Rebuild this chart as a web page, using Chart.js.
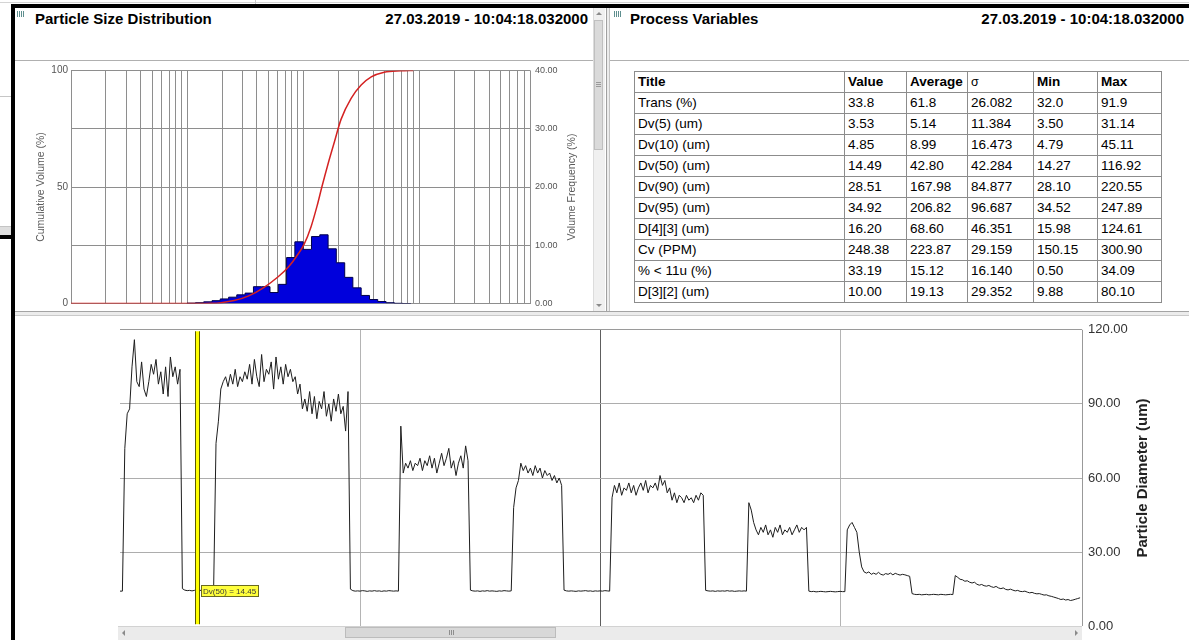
<!DOCTYPE html>
<html>
<head>
<meta charset="utf-8">
<title>Particle Size Distribution / Process Variables</title>
<script src="https://cdn.jsdelivr.net/npm/chart.js@4.4.1/dist/chart.umd.min.js"></script>
<style>
  html, body { margin: 0; padding: 0; background: #fff; }
  body { width: 1189px; height: 640px; position: relative; overflow: hidden;
         font-family: "Liberation Sans", Arial, sans-serif; color: #000; }
  .abs { position: absolute; }
  .hdr { position: absolute; top: 10px; font-size: 15px; font-weight: bold; line-height: 17px; white-space: nowrap; }
  .icon { position: absolute; width: 8px; height: 6px;
          background: repeating-linear-gradient(90deg, #5f8f8f 0 1px, transparent 1px 2px); }
  #pv { position: absolute; left: 634px; top: 71px; border-collapse: collapse; table-layout: fixed;
        font-size: 13.5px; width: 527px; }
  #pv td { border: 1px solid #8c8c8c; padding: 0 3px; height: 20px; line-height: 20px;
           white-space: nowrap; overflow: hidden; }
  #pv tr.head td { font-weight: bold; }
  #pv tr.head td.sym { font-weight: normal; font-size: 12.5px; }
  canvas { position: absolute; }
  .tri-up { width: 0; height: 0; border-left: 3px solid transparent; border-right: 3px solid transparent; border-bottom: 3px solid #8a8a8a; }
  .tri-dn { width: 0; height: 0; border-left: 3px solid transparent; border-right: 3px solid transparent; border-top: 3px solid #8a8a8a; }
  .tri-lt { width: 0; height: 0; border-top: 3px solid transparent; border-bottom: 3px solid transparent; border-right: 3px solid #8a8a8a; }
  .tri-rt { width: 0; height: 0; border-top: 3px solid transparent; border-bottom: 3px solid transparent; border-left: 3px solid #8a8a8a; }
</style>
</head>
<body>

<!-- neighbouring window edge on the far left -->
<div class="abs" style="left:0;top:2px;width:1189px;height:1px;background:#d4d4d4"></div>
<div class="abs" style="left:255px;top:0;width:1px;height:4px;background:#c8c8c8"></div>
<div class="abs" style="left:0;top:96px;width:11px;height:1px;background:#c6c6c6"></div>
<div class="abs" style="left:0;top:226px;width:11px;height:8px;background:#dedede;border-top:1px solid #c4c4c4"></div>
<div class="abs" style="left:0;top:235px;width:15px;height:4px;background:#000"></div>

<!-- outer frame -->
<div class="abs" style="left:11px;top:4px;width:1178px;height:4px;background:#000"></div>
<div class="abs" style="left:11px;top:4px;width:4px;height:636px;background:#000"></div>

<!-- left panel header -->
<div class="icon" style="left:17px;top:11px"></div>
<div class="hdr" style="left:35px">Particle Size Distribution</div>
<div class="hdr" style="right:601px;text-align:right">27.03.2019 - 10:04:18.032000</div>
<div class="abs" style="left:15px;top:60px;width:578px;height:1px;background:#b0b0b0"></div>

<!-- left panel vertical scrollbar -->
<div class="abs" style="left:593px;top:8px;width:11px;height:304px;background:#f0f0f0;border-left:1px solid #dcdcdc"></div>
<div class="abs tri-up" style="left:596px;top:12px"></div>
<div class="abs" style="left:594px;top:20px;width:9px;height:130px;background:#dadada;border:1px solid #bfbfbf;box-sizing:border-box"></div>
<div class="abs" style="left:596px;top:82px;width:5px;height:5px;background:repeating-linear-gradient(180deg,#9a9a9a 0 1px,transparent 1px 2px)"></div>
<div class="abs tri-dn" style="left:596px;top:304px"></div>

<!-- panel divider -->
<div class="abs" style="left:606px;top:8px;width:1px;height:305px;background:#a0a0a0"></div>
<div class="abs" style="left:607px;top:8px;width:2px;height:305px;background:#ececec"></div>
<div class="abs" style="left:609px;top:8px;width:1px;height:305px;background:#c4c4c4"></div>

<!-- right panel header -->
<div class="icon" style="left:614px;top:11px"></div>
<div class="hdr" style="left:630px">Process Variables</div>
<div class="hdr" style="right:5px;text-align:right">27.03.2019 - 10:04:18.032000</div>
<div class="abs" style="left:610px;top:60px;width:579px;height:1px;background:#b0b0b0"></div>

<!-- process variables table -->
<table id="pv">
  <colgroup>
    <col style="width:210px"><col style="width:62px"><col style="width:61px">
    <col style="width:66px"><col style="width:64px"><col style="width:64px">
  </colgroup>
  <tbody id="pvBody"></tbody>
</table>

<!-- separator between upper panels and trend -->
<div class="abs" style="left:15px;top:311px;width:1174px;height:1px;background:#a4a4a4"></div>
<div class="abs" style="left:15px;top:312px;width:1174px;height:3px;background:#ececec"></div>
<div class="abs" style="left:15px;top:315px;width:1174px;height:1px;background:#cacaca"></div>

<canvas id="psd" width="577" height="254" style="left:15px;top:60px"></canvas>
<canvas id="trend" width="1174" height="324" style="left:15px;top:316px"></canvas>

<!-- trend horizontal scrollbar -->
<div class="abs" style="left:118px;top:626px;width:964px;height:13px;background:#ebebeb;border-top:1px solid #d2d2d2"></div>
<div class="abs tri-lt" style="left:122px;top:630px"></div>
<div class="abs" style="left:345px;top:627px;width:211px;height:11px;background:#d8d8d8;border:1px solid #bcbcbc;box-sizing:border-box"></div>
<div class="abs" style="left:449px;top:630px;width:5px;height:5px;background:repeating-linear-gradient(90deg,#8e8e8e 0 1px,transparent 1px 2px)"></div>
<div class="abs tri-rt" style="left:1075px;top:630px"></div>

<script>
// ---------- Process variables table ----------
const pvTitles   = ['Trans (%)', 'Dv(5) (um)', 'Dv(10) (um)', 'Dv(50) (um)', 'Dv(90) (um)', 'Dv(95) (um)',
                    'D[4][3] (um)', 'Cv (PPM)', '% < 11u (%)', 'D[3][2] (um)'];
const pvValue    = ['33.8', '3.53', '4.85', '14.49', '28.51', '34.92', '16.20', '248.38', '33.19', '10.00'];
const pvAverage  = ['61.8', '5.14', '8.99', '42.80', '167.98', '206.82', '68.60', '223.87', '15.12', '19.13'];
const pvSigma    = ['26.082', '11.384', '16.473', '42.284', '84.877', '96.687', '46.351', '29.159', '16.140', '29.352'];
const pvMin      = ['32.0', '3.50', '4.79', '14.27', '28.10', '34.52', '15.98', '150.15', '0.50', '9.88'];
const pvMax      = ['91.9', '31.14', '45.11', '116.92', '220.55', '247.89', '124.61', '300.90', '34.09', '80.10'];
const pvHeaders  = ['Title', 'Value', 'Average', 'σ', 'Min', 'Max'];

// ---------- Particle size distribution (µm, log-spaced size classes) ----------
const sizeClassEdges  = [1.00, 1.18, 1.39, 1.64, 1.93, 2.28, 2.68, 3.16, 3.73, 4.39, 5.18, 6.11, 7.20, 8.48,
                         10.0, 11.8, 13.9, 16.4, 19.3, 22.8, 26.8, 31.6, 37.3, 43.9, 51.8, 61.1, 72.0, 84.8];
const volumeFrequency = [0.03, 0.08, 0.15, 0.3, 0.5, 0.8, 1.1, 1.5, 1.8, 2.9, 2.9, 1.9, 3.3, 7.9,
                         10.6, 9.3, 11.5, 11.8, 9.4, 7.0, 4.5, 2.7, 1.4, 0.7, 0.35, 0.15, 0.05];
const cumulativeSize   = [0.1, 1.0, 1.24, 1.61, 1.96, 2.54, 3.36, 4.61, 6.09, 7.43, 8.7, 10.2, 11.7, 13.2,
                          14.49, 16.4, 18.5, 21.2, 25.9, 31.6, 38.6, 49.9, 69.9, 88.9];
const cumulativeVolume = [0, 0, 0, 0.1, 0.4, 1.3, 3.2, 7.0, 11.5, 15.6, 20, 25.5, 33, 42,
                          50, 60, 69, 79, 88, 93.7, 97.2, 99.2, 99.8, 100];
const sizeDecades = [0.1, 1, 10, 100];

// ---------- Dv(50) trend, one sample per second ----------
const traceDv50 = [
  14.2, 14.2,
  72, 86, 88, 105, 116,
  99, 97, 107, 96, 93, 99, 106, 102, 108, 98, 103, 94, 105, 93, 109, 101, 105, 98, 104,
  15.2, 14.6, 14.4, 14.5, 14.3, 14.5, 14.45, 14.4, 14.6, 14.5, 14.3, 14.5, 14.4, 14.6,
  74, 83, 96,
  99, 101, 97, 102, 98, 104, 97, 101, 99, 103,
  100, 106, 98, 108, 101, 97, 110, 99, 104, 102, 107, 96, 109, 100, 105, 98, 106, 101, 104,
  99, 101,
  94, 98, 88, 92, 87, 95,
  86, 93, 84, 91, 88, 95, 85, 90, 83, 92, 87, 94, 86, 89, 79, 95,
  15.0, 14.4, 14.2, 14.3, 14.2, 14.4, 14.3, 14.1, 14.3, 14.2, 14.4, 14.2, 14.3, 14.1, 14.3, 14.2, 14.4, 14.3, 14.2, 14.3, 14.2,
  81, 62, 66, 64, 67, 63, 66, 65, 68, 63, 67, 65, 69, 64, 68, 62, 66, 70, 65, 68, 72, 64, 67, 61, 66, 69, 64, 73, 67,
  14.6, 14.3, 14.2, 14.3, 14.1, 14.3, 14.2, 14.4, 14.2, 14.3, 14.2, 14.1, 14.3, 14.2, 14.4, 14.3, 14.2, 14.3,
  48, 56, 59, 66, 63, 65, 62, 64, 61, 65, 62, 64, 60, 63, 61, 62, 59, 61, 58, 60, 57,
  14.6, 14.3, 14.2, 14.3, 14.2, 14.1, 14.3, 14.2, 14.3, 14.4, 14.2, 14.3, 14.1, 14.3, 14.2, 14.3, 14.2, 14.4, 14.3, 14.2,
  52, 57, 54, 58, 53, 56, 55, 58, 54, 57, 53, 56, 58, 55, 59, 54, 57, 56, 58, 55,
  61, 57, 59, 54, 56, 51, 54, 50, 53, 52, 50, 53, 51, 52, 50, 53, 51, 54, 53,
  14.5, 14.3, 14.2, 14.3, 14.1, 14.3, 14.2, 14.3, 14.2, 14.4, 14.2, 14.3, 14.1, 14.2, 14.3, 14.2, 14.3, 14.2,
  50, 47, 42, 39, 37, 40, 38, 41, 37, 39, 36, 40, 38, 41, 37, 39, 38, 40, 37, 39, 41, 38, 40, 39, 40,
  14.2, 14.0, 14.1, 13.9, 14.0, 14.1, 14.0, 13.9, 14.0, 14.1, 14.0, 13.9, 14.0, 14.1, 14.0, 14.0,
  39, 41, 42, 40, 38, 30, 24, 22, 21.5, 22, 21, 21.5, 21, 21.8, 21, 20.7, 21.3, 21, 21.5, 20.8, 21.4, 21, 20.7, 21, 20.8, 20.5, 20.2,
  13.2, 12.9, 12.8, 12.9, 12.7, 12.8, 12.9, 12.7, 12.8, 12.9, 12.8, 12.7, 12.9, 12.8, 12.7, 12.8, 12.9, 12.8,
  20.5, 19.8, 19, 18.8, 18.2, 18.4, 17.8, 17.5, 17.8, 17, 16.6, 16.9, 16.4, 16.2, 16.5, 16, 15.7, 16.1, 15.5, 15.2,
  15.5, 14.9, 14.7, 15, 14.6, 14.3, 14.5, 14.1, 14, 14.2, 13.8, 13.5, 13.7, 13.3, 13.1, 13.2, 12.9, 12.6, 12.7, 12.3,
  12.1, 11.8, 11.5, 11.2, 10.8, 11, 10.6, 10.8, 10.4, 10.6, 10.9, 11.2, 11.5
];
const traceWindowEnd = 400.8;         // seconds shown in the trend window
const traceGridSeconds = [0, 100, 200, 300, 400.8];
const diameterTicks = [0, 30, 60, 90, 120];
const cursorIndex = 32;               // sample under the Dv(50) cursor

// ---------- build the table ----------
(function buildTable() {
  const body = document.getElementById('pvBody');
  const head = document.createElement('tr');
  head.className = 'head';
  pvHeaders.forEach(h => {
    const td = document.createElement('td');
    td.textContent = h;
    if (h === 'σ') td.className = 'sym';
    head.appendChild(td);
  });
  body.appendChild(head);
  pvTitles.forEach((t, i) => {
    const tr = document.createElement('tr');
    [t, pvValue[i], pvAverage[i], pvSigma[i], pvMin[i], pvMax[i]].forEach(v => {
      const td = document.createElement('td');
      td.textContent = v;
      tr.appendChild(td);
    });
    body.appendChild(tr);
  });
})();

Chart.defaults.font.family = '"Liberation Sans", Arial, sans-serif';
Chart.defaults.animation = false;

// rotated axis titles, reading bottom-to-top on both sides
const sideTitles = {
  id: 'sideTitles',
  afterDraw(chart, args, opts) {
    const { ctx, chartArea } = chart;
    (opts.items || []).forEach(t => {
      ctx.save();
      ctx.font = t.font;
      ctx.fillStyle = t.color;
      ctx.textAlign = 'center';
      ctx.textBaseline = 'middle';
      const x = t.side === 'left' ? chartArea.left - t.offset : chartArea.right + t.offset;
      ctx.translate(x, (chartArea.top + chartArea.bottom) / 2);
      ctx.rotate(-Math.PI / 2);
      ctx.fillText(t.text, 0, 0);
      ctx.restore();
    });
  }
};

// ---------- particle size distribution chart ----------
const psdGridlines = [];
sizeDecades.forEach(d => { for (let m = 1; m <= 9; m++) psdGridlines.push(+(d * m).toPrecision(3)); });

const histogramPoints = volumeFrequency.map((v, i) => ({ x: sizeClassEdges[i], y: v }));
histogramPoints.push({ x: sizeClassEdges[sizeClassEdges.length - 1], y: 0 });
const cumulativePoints = cumulativeSize.map((s, i) => ({ x: s, y: cumulativeVolume[i] }));

new Chart(document.getElementById('psd'), {
  type: 'line',
  data: {
    datasets: [
      {
        label: 'Cumulative Volume (%)',
        data: cumulativePoints,
        yAxisID: 'yCum',
        borderColor: '#d42222',
        borderWidth: 1.5,
        pointRadius: 0,
        cubicInterpolationMode: 'monotone',
        fill: false,
        order: 0
      },
      {
        label: 'Volume Frequency (%)',
        data: histogramPoints,
        yAxisID: 'yFreq',
        stepped: 'after',
        borderColor: '#00004a',
        borderWidth: 1,
        backgroundColor: '#0000dc',
        fill: 'origin',
        pointRadius: 0,
        order: 1
      }
    ]
  },
  options: {
    responsive: false,
    events: [],
    layout: { padding: { top: 10, left: 0, right: 0, bottom: 0 } },
    plugins: {
      legend: { display: false },
      tooltip: { enabled: false },
      sideTitles: {
        items: [
          { text: 'Cumulative Volume (%)', side: 'left', offset: 30, font: '10.5px "Liberation Sans", Arial', color: '#5a5a5a' },
          { text: 'Volume Frequency (%)', side: 'right', offset: 42, font: '10.5px "Liberation Sans", Arial', color: '#5a5a5a' }
        ]
      }
    },
    scales: {
      x: {
        type: 'logarithmic',
        min: 0.1,
        max: 900,
        afterBuildTicks(scale) { scale.ticks = psdGridlines.map(v => ({ value: v })); },
        ticks: { display: false },
        grid: { color: '#8e8e8e', drawTicks: false },
        border: { display: false },
        afterFit(scale) { scale.height = 10; }
      },
      yCum: {
        position: 'left',
        min: 0,
        max: 100,
        ticks: {
          stepSize: 25,
          callback: v => (v % 50 === 0 ? String(v) : ''),
          color: '#555',
          font: { size: 10 },
          padding: 3
        },
        grid: { color: '#8e8e8e', drawTicks: false },
        border: { display: false },
        afterFit(scale) { scale.width = 56; }
      },
      yFreq: {
        position: 'right',
        min: 0,
        max: 40,
        ticks: {
          stepSize: 10,
          callback: v => Number(v).toFixed(2),
          color: '#555',
          font: { size: 9 },
          padding: 5
        },
        grid: { display: false, drawTicks: false },
        border: { display: false },
        afterFit(scale) { scale.width = 62; }
      }
    }
  },
  plugins: [sideTitles]
});

// ---------- Dv(50) trend chart ----------
const dvCursor = {
  id: 'dvCursor',
  afterDatasetsDraw(chart) {
    const { ctx, chartArea, scales } = chart;
    const value = traceDv50[cursorIndex];
    const x = Math.round(scales.x.getPixelForValue(cursorIndex));
    const top = chartArea.top + 1.5;
    const bottom = chartArea.bottom - 2;
    ctx.save();
    ctx.fillStyle = '#ffff00';
    ctx.fillRect(x - 2, top, 5, bottom - top);
    ctx.strokeStyle = '#5a5a00';
    ctx.lineWidth = 1;
    ctx.beginPath();
    ctx.moveTo(x - 1.5, top); ctx.lineTo(x - 1.5, bottom);
    ctx.moveTo(x + 2.5, top); ctx.lineTo(x + 2.5, bottom);
    ctx.stroke();

    const label = 'Dv(50) = ' + value.toFixed(2);
    ctx.font = '8px "Liberation Sans", Arial';
    const w = Math.ceil(ctx.measureText(label).width) + 4;
    const y = Math.round(scales.y.getPixelForValue(value));
    ctx.fillStyle = '#ffff3c';
    ctx.fillRect(x + 4, y - 6, w, 12);
    ctx.strokeStyle = '#6a6a20';
    ctx.strokeRect(x + 4.5, y - 5.5, w - 1, 11);
    ctx.fillStyle = '#3a3a3a';
    ctx.textBaseline = 'middle';
    ctx.fillText(label, x + 6, y + 0.5);
    ctx.restore();
  }
};

new Chart(document.getElementById('trend'), {
  type: 'line',
  data: {
    datasets: [{
      label: 'Dv(50)',
      data: traceDv50.map((v, i) => ({ x: i, y: v })),
      borderColor: '#1e1e1e',
      borderWidth: 1,
      pointRadius: 0,
      tension: 0,
      fill: false
    }]
  },
  options: {
    responsive: false,
    events: [],
    layout: { padding: { top: 9.5, left: 105, right: 0, bottom: 0 } },
    plugins: {
      legend: { display: false },
      tooltip: { enabled: false },
      sideTitles: {
        items: [
          { text: 'Particle Diameter (um)', side: 'right', offset: 61, font: 'bold 15px "Liberation Sans", Arial', color: '#222' }
        ]
      }
    },
    scales: {
      x: {
        type: 'linear',
        min: 0,
        max: traceWindowEnd,
        afterBuildTicks(scale) { scale.ticks = traceGridSeconds.map(v => ({ value: v })); },
        ticks: { display: false },
        grid: {
          drawTicks: false,
          color: c => {
            const v = c.tick ? c.tick.value : null;
            if (v === 0) return 'rgba(0,0,0,0)';
            if (v === 200) return '#5e5e5e';
            if (v === traceWindowEnd) return '#999';
            return '#b4b4b4';
          }
        },
        border: { display: false },
        afterFit(scale) { scale.height = 12.5; }
      },
      y: {
        position: 'right',
        min: 0,
        max: 120,
        afterBuildTicks(scale) { scale.ticks = diameterTicks.map(v => ({ value: v })); },
        ticks: {
          callback: v => Number(v).toFixed(2),
          color: '#333',
          font: { size: 13 },
          padding: 6
        },
        grid: { color: c => (c.tick && c.tick.value === 120 ? '#9a9a9a' : '#adadad'), drawTicks: false },
        border: { display: false },
        afterFit(scale) { scale.width = 107; }
      }
    }
  },
  plugins: [sideTitles, dvCursor]
});
</script>
</body>
</html>
